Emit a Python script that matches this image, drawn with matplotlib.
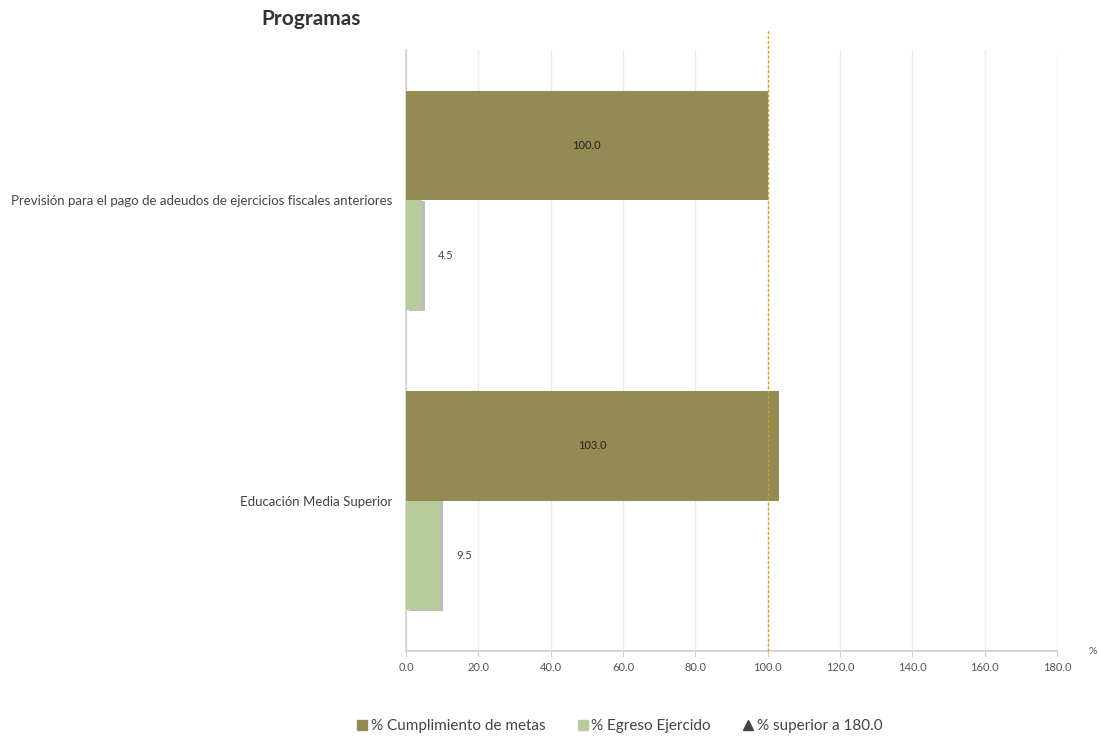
import numpy as np
import matplotlib.pyplot as plt
import matplotlib.patheffects as pe
from matplotlib.lines import Line2D

plt.rcParams['font.family'] = ['Lato', 'DejaVu Sans']

programas = ["Previsión para el pago de adeudos de ejercicios fiscales anteriores",
             "Educación Media Superior"]
cumplimiento = [100.0, 103.0]
egreso = [4.5, 9.5]
xticks = np.arange(0, 181, 20)

olive = "#948a54"
green = "#b8cb9c"
gray = "#555555"

fig = plt.figure(figsize=(10.99, 7.38), dpi=100)
ax = fig.add_axes([0.3694, 0.1179, 0.5924, 0.8143])

y = np.arange(len(programas))
h = 0.365
ax.barh(y - h / 2, cumplimiento, height=h, color=olive, zorder=3)
bars_eg = ax.barh(y + h / 2, egreso, height=h, color=green, zorder=3)
for b in bars_eg:
    b.set_path_effects([pe.SimplePatchShadow(offset=(2.2, -0.5), shadow_rgbFace="#888888", alpha=0.55),
                        pe.Normal()])

for i in range(len(programas)):
    ax.text(cumplimiento[i] / 2, y[i] - h / 2, "%.1f" % cumplimiento[i],
            ha="center", va="center", fontsize=8, color="#222222", zorder=4)
    ax.text(egreso[i] + 6.5, y[i] + h / 2, "%.1f" % egreso[i],
            ha="center", va="center", fontsize=8, color="#444444", zorder=4)

ax.axvline(100, ymin=0, ymax=1 + 20 / 601, color="#d4a017", lw=1.0,
           ls=(0, (2, 1.5)), clip_on=False, zorder=5)

ax.set_xlim(0, 180)
ax.set_ylim(1.5, -0.5)
ax.set_xticks(xticks)
ax.set_xticklabels(["%.1f" % v for v in xticks], fontsize=8, color=gray)
ax.set_yticks(y)
ax.set_yticklabels(programas, fontsize=9.5, color="#444444")
ax.tick_params(axis="y", length=0, pad=10)
ax.tick_params(axis="x", length=4, color="#d0d0d0", pad=4)
ax.grid(axis="x", color="#ebebeb", lw=1, zorder=0)
for s in ["top", "right"]:
    ax.spines[s].set_visible(False)
ax.spines["left"].set_color("#d0d0d0")
ax.spines["bottom"].set_color("#d0d0d0")
ax.spines["left"].set_linewidth(1.2)
ax.spines["bottom"].set_linewidth(1.2)

fig.text(1093 / 1099, 1 - 651 / 738, "%", fontsize=7.5, color=gray, ha="center", va="center")
fig.text(261 / 1099, 1 - 19 / 738, "Programas", fontsize=15, fontweight="bold",
         color="#333333", ha="left", va="center")

handles = [Line2D([], [], marker="s", ls="", color=olive, markersize=7),
           Line2D([], [], marker="s", ls="", color=green, markersize=7),
           Line2D([], [], marker="^", ls="", color="#444444", markersize=7)]
labels = ["% Cumplimiento de metas", "% Egreso Ejercido", "% superior a 180.0"]
fig.legend(handles, labels, loc="center", bbox_to_anchor=(619 / 1099, 1 - 726 / 738),
           ncol=3, frameon=False, fontsize=11, handletextpad=0.1, columnspacing=2.0,
           labelcolor="#444444", handlelength=0.9)

fig.savefig("out.png", dpi=100)
